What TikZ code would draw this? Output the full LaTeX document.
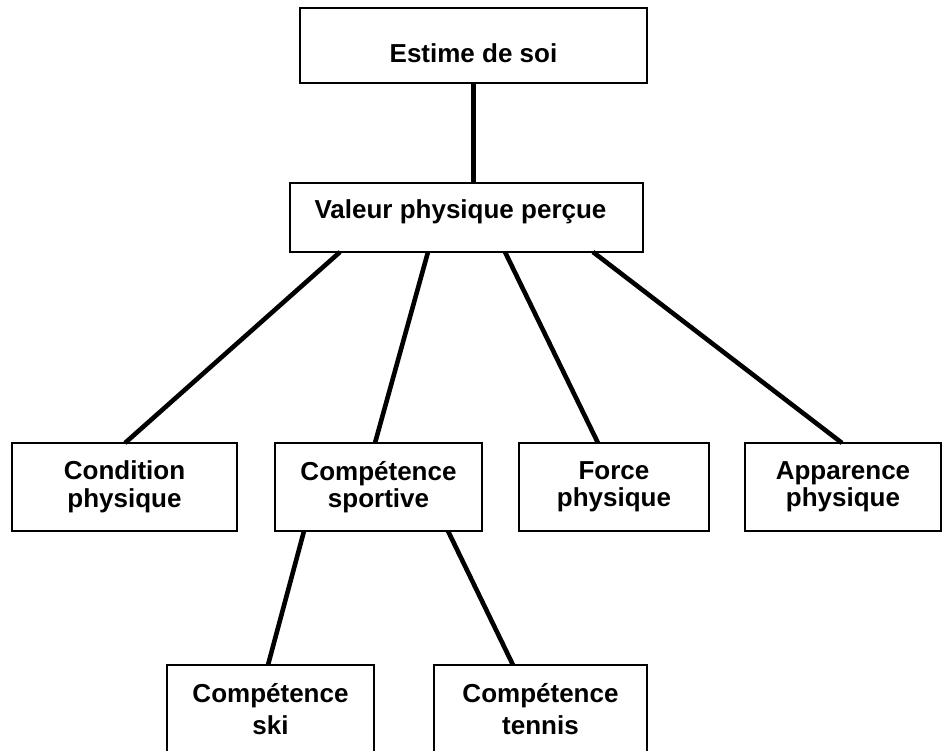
\documentclass[tikz,border=0pt]{standalone}
\usepackage{fontspec}
\setmainfont{Liberation Sans}
\begin{document}
\begin{tikzpicture}[x=1pt,y=-1pt,
  box/.style={draw, line width=1.6pt, rectangle, inner sep=0pt, outer sep=0pt,
    align=center, font=\bfseries\fontsize{26}{27.5}\selectfont},
  lowbox/.style={box, font=\bfseries\fontsize{26}{31.7}\selectfont},
  link/.style={line width=4.6pt}]
\useasboundingbox (0,0) rectangle (942,751);
\clip (0,0) rectangle (942,751);
\fill[white] (0,0) rectangle (942,751);

\node[box, minimum width=347pt, minimum height=75pt] (estime) at (473.5,45.5)
  {\raisebox{-7.7pt}[\height][\depth]{Estime de soi}};
\node[box, minimum width=353pt, minimum height=69pt] (valeur) at (466.5,217.5)
  {\raisebox{5.9pt}[\height][\depth]{\kern-12pt Valeur physique perçue}};

\node[box, minimum width=225pt, minimum height=88pt] (cond) at (124.5,487) {Condition\\physique};
\node[box, minimum width=207pt, minimum height=88pt] (sport) at (378.5,487) {Compétence\\sportive};
\node[box, minimum width=190pt, minimum height=88pt] (force) at (614,487) {Force\\physique};
\node[box, minimum width=196pt, minimum height=88pt] (app) at (843,487) {Apparence\\physique};

\node[lowbox, minimum width=207pt, minimum height=88pt] (ski) at (270.5,709) {Compétence\\ski};
\node[lowbox, minimum width=213pt, minimum height=88pt] (tennis) at (540.5,709) {Compétence\\tennis};

\draw[link] (estime.south) -- (estime.south |- valeur.north);
\draw[link] ([xshift=-126.5pt]valeur.south) -- ([xshift=0.5pt]cond.north);
\draw[link] ([xshift=-38.5pt]valeur.south) -- ([xshift=-3.5pt]sport.north);
\draw[link] ([xshift=38.5pt]valeur.south) -- ([xshift=-16pt]force.north);
\draw[link] ([xshift=126.5pt]valeur.south) -- ([xshift=-1pt]app.north);
\draw[link] ([xshift=-74.5pt]sport.south) -- ([xshift=-2.5pt]ski.north);
\draw[link] ([xshift=69.5pt]sport.south) -- ([xshift=-27.5pt]tennis.north);
\end{tikzpicture}
\end{document}
